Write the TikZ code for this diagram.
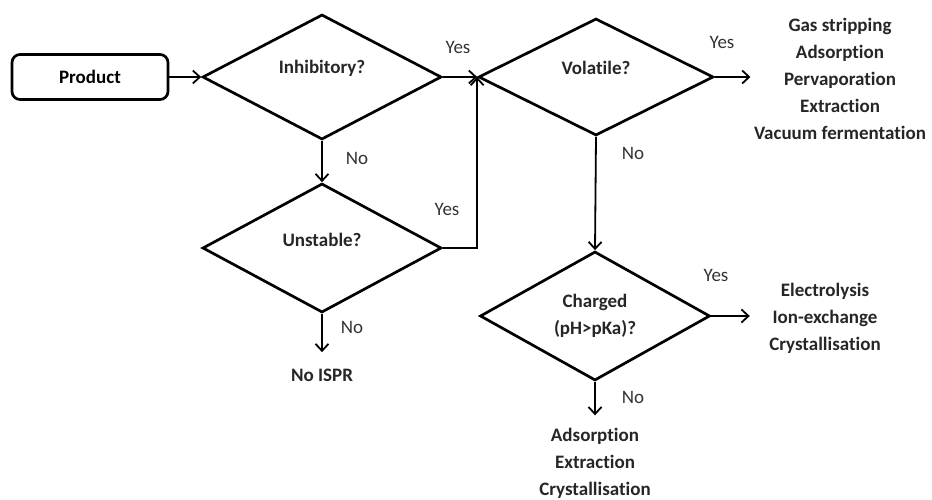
\documentclass[tikz,border=0pt]{standalone}
\usepackage{fontspec}
\setmainfont{Carlito}[Ligatures=NoCommon]
\usetikzlibrary{shapes.geometric,arrows.meta}
\newcommand\chartfont{\fontsize{19}{27}\selectfont}

\begin{document}
\begin{tikzpicture}[x=1pt,y=-1pt,
  decision/.style n args={2}{diamond,draw,line width=2.7pt,minimum width=#1pt,minimum height=#2pt,inner sep=0pt},
  startbox/.style={rectangle,draw,line width=2.7pt,rounded corners=8pt,minimum width=156pt,minimum height=45pt,font=\chartfont\bfseries},
  qtext/.style={font=\chartfont\bfseries,align=center,text=black!85},
  answer/.style={font=\chartfont,text=black!80},
  outcome/.style={font=\chartfont\bfseries,align=center,text=black!85},
  flow/.style={-{Straight Barb[length=7pt,width=13pt,line width=1.8pt]},line width=1.8pt}]
\useasboundingbox (0,0) rectangle (932,500);
% start and decisions
\node[startbox] (prod) at (90,77) {Product};
\node[decision={239}{125}] (inh) at (322,77) {};
\node[decision={239}{129}] (uns) at (322,248) {};
\node[decision={235}{117}] (vol) at (596,77) {};
\node[decision={230}{129}] (chg) at (595,316) {};
\node[qtext] (inhT) at ([yshift=9pt]inh.center) {Inhibitory?};
\node[qtext] (unsT) at ([yshift=8pt]uns.center) {Unstable?};
\node[qtext] (volT) at ([yshift=9pt]vol.center) {Volatile?};
\node[qtext] (chgT) at (chg.center) {Charged\\(pH>pKa)?};
% outcomes
\node[outcome] (gas) at (840,79) {Gas stripping\\Adsorption\\Pervaporation\\Extraction\\Vacuum fermentation};
\node[outcome] (noispr) at (322,375) {No ISPR};
\node[outcome] (elec) at (825,318) {Electrolysis\\Ion-exchange\\Crystallisation};
\node[outcome] (ads) at (595,463) {Adsorption\\Extraction\\Crystallisation};
% answers
\foreach \n/\t/\px/\py in {a1/Yes/458/47, a2/No/357/158, a3/Yes/447/209, a4/No/352/327,
  a5/Yes/722/42, a6/No/633/153, a7/Yes/716/275, a8/No/633/397} {
  \node[answer] (\n) at (\px,\py) {\t};
}
% connectors
\draw[flow] (prod) -- (inh);
\draw[flow] (inh.east) -- (vol.west);
\draw[flow] (inh.south) -- (uns.north);
\draw[flow] (uns.east) -| (vol.west);
\draw[flow] (uns.south) -- ([yshift=13pt]noispr.north);
\draw[flow] (vol.east) -- (vol.east -| gas.west);
\draw[flow] (vol.south) -- (chg.north);
\draw[flow] (chg.east) -- ([xshift=-16pt]chg.east -| elec.west);
\draw[flow] (chg.south) -- ([yshift=9pt]ads.north);
\end{tikzpicture}
\end{document}
